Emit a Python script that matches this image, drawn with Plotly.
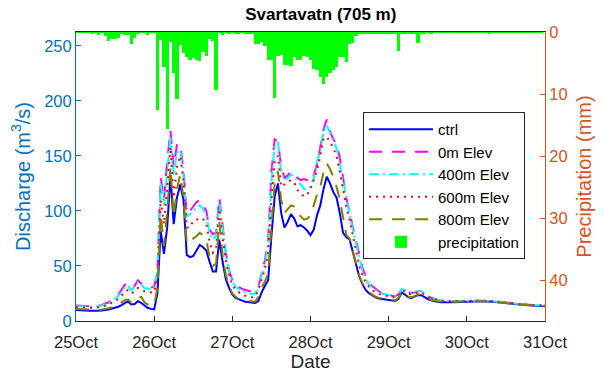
import pandas as pd
import plotly.graph_objects as go

# ---------------- data ----------------
start = pd.Timestamp("2018-10-25 00:00")
day_ticks = ["25Oct", "26Oct", "27Oct", "28Oct", "29Oct", "30Oct", "31Oct"]

# hours after 25 Oct 00:00 at which discharge was read
disc_hours = [0, 2, 4, 6, 8, 10] + list(range(12, 109)) + [110, 112, 116, 120, 124, 128, 132, 136, 140, 144]

ctrl = [10, 9.5, 9.3, 9.3, 9.5, 10.5,
        12, 13, 14.5, 16.5, 17.5, 15, 15.5, 18, 16.5, 14, 12, 11,
        10.5, 25, 82, 61, 85, 132, 88, 112, 124, 110, 60, 58,
        59, 64, 69, 67, 64, 54, 45, 45, 74, 54, 38, 30,
        24, 21, 19.5, 18.5, 17.5, 17, 16.5, 16.3, 18, 26, 32, 37,
        77, 113, 125, 98, 85, 90, 97, 93, 86, 87, 85, 82,
        78, 83, 96, 105, 120, 131, 125, 117, 112, 98, 80, 76,
        74, 63, 50, 40, 33, 28, 25, 23, 21.5, 20.5, 20, 19.5,
        19, 18.5, 18.2, 20, 26, 24, 21.5, 21, 22, 23.5, 23.5, 21.5,
        20,
        18, 17, 17, 17.5, 18, 17.5, 16, 15, 14, 13.5]

elev0 = [14, 13.5, 13.5, 13.5, 14.5, 17,
         21, 24, 28, 33, 33, 29.5, 32, 37, 34, 32, 31, 30.5,
         31, 45, 131, 110, 145, 173, 140, 160, 161, 137, 97, 100,
         104, 108, 110, 106, 100, 83, 79, 80, 112, 89, 62, 46,
         37, 32, 31, 29, 28, 27, 26.5, 27, 31, 44, 55, 75,
         135, 165, 163, 140, 130, 132, 136, 134, 130, 128, 129, 128,
         126, 133, 142, 158, 174, 183, 172, 165, 161, 148, 128, 112,
         98, 86, 74, 60, 48, 40, 35, 31.5, 29, 27, 25.5, 24.5,
         24, 23, 22.5, 24, 29, 28.5, 26.5, 25.5, 26, 27, 27, 24.5,
         22.5,
         20, 18.5, 18, 18.5, 18.5, 18, 16.5, 15.5, 14.5, 14]

elev400 = [13.5, 13, 13, 13, 14, 16.5,
           20, 23, 26, 31, 32, 28, 31, 35, 33, 30, 29.5, 29,
           30, 45, 125, 105, 135, 168, 132, 153, 155, 133, 95, 97,
           100, 103, 105, 102, 96, 80, 74, 77, 108, 85, 60, 45,
           36, 31, 29, 27, 26, 25, 24.5, 25, 30, 42, 52, 70,
           125, 160, 162, 135, 128, 130, 133, 132, 127, 124, 120, 119,
           122, 130, 145, 155, 172, 178, 170, 163, 157, 142, 124, 110,
           97, 83, 70, 56, 45, 38, 33, 30, 28, 26, 25, 24,
           23.5, 23, 22.5, 24, 29, 28, 26, 25, 26, 27, 27, 24.5,
           22.5,
           20, 18.5, 18, 18.5, 18.5, 18, 16.5, 15.5, 14.5, 14]

elev600 = [12.5, 12, 12, 12, 13, 15,
           18, 20, 23, 27, 28, 25, 27, 30, 29, 27, 27, 26,
           26, 40, 110, 88, 120, 158, 112, 140, 150, 128, 85, 85,
           91, 92, 93, 93, 88, 72, 62, 65, 102, 76, 55, 42,
           33, 28, 26, 24, 23, 22, 21.5, 22, 28, 38, 47, 62,
           110, 145, 150, 122, 124, 126, 128, 126, 119, 116, 113, 115,
           120, 128, 137, 150, 166, 167, 163, 157, 150, 135, 118, 104,
           92, 78, 62, 50, 41, 35, 31, 28, 26, 24.5, 23.5, 23,
           22.5, 22, 21.5, 23, 28, 27, 25, 24, 25, 26, 26, 24,
           22,
           20, 18.5, 18, 18.5, 18.5, 18, 16.5, 15.5, 14.5, 14]

elev800 = [11, 10.5, 10, 10, 10.5, 11.5,
           13.5, 15, 17, 19, 19.5, 16.5, 18, 21, 22, 17, 15, 14,
           14.5, 30, 97, 68, 100, 140, 95, 120, 133, 112, 71, 70,
           75, 77, 80, 78, 74, 58, 50, 52, 90, 60, 42, 32,
           25, 22, 20, 19, 18.5, 18, 17.5, 17.5, 22, 30, 36, 43,
           86, 125, 136, 110, 98, 102, 105, 104, 98, 95, 92, 93,
           96, 105, 115, 122, 135, 143, 138, 131, 122, 110, 92, 78,
           75, 64, 51, 41, 34, 29, 26, 24, 22, 21, 20.5, 20,
           19.5, 19, 18.8, 21, 27, 25, 22, 21.5, 22.5, 24, 24, 22,
           20.5,
           18.5, 17.5, 17.5, 18, 18, 17.5, 16, 15, 14, 13.5]

# hourly precipitation (mm), hours 0..143
precip = [0.05, 0.05, 0.05, 0.05, 0.1, 0.3, 0.1, 0.5, 0.1, 0.7, 1.4, 1.2,
          1.1, 1.0, 0.3, 0.5, 0.5, 2.0, 1.0, 0.2, 0.1, 0.1, 0.5, 0.05,
          0.05, 12.5, 1.3, 5.6, 15.7, 1.6, 6.6, 10.8, 2.1, 3.4, 4.1, 4.5,
          4.2, 4.5, 4.7, 3.2, 3.9, 1.1, 1.4, 9.3, 0.1, 0.5, 0.1, 0.2,
          0.1, 0.2, 0.2, 0.1, 0.2, 0.3, 0.2, 1.9, 2.0, 1.6, 2.3, 4.5,
          4.5, 10.6, 3.9, 3.7, 5.3, 5.3, 5.5, 4.0, 4.5, 4.5, 3.8, 4.1,
          4.5, 5.9, 6.1, 7.3, 8.4, 7.2, 6.6, 6.2, 5.6, 4.0, 4.0, 4.9,
          1.9, 1.7, 0.6, 0.4, 0.4, 0.4, 0.3, 0.3, 0.3, 0.2, 0.3, 0.2,
          0.3, 0.2, 0.3, 3.1, 0.3, 0.2, 0.3, 0.2, 0.3, 1.7, 0.2, 0.2,
          0.1, 0.2, 0.1, 0.1, 0.1, 0.1, 0.1, 0.1, 0.1, 0.1, 0.1, 0.1,
          0.1, 0.1, 0.1, 0.1, 0.1, 0.1, 0.1, 0.3, 0.05, 0.05, 0.05, 0.05,
          0.05, 0.05, 0.05, 0.05, 0.05, 0.05, 0.05, 0.05, 0.05, 0.05, 0.05, 0.05]
precip_hours = list(range(len(precip)))

# ---------------- figure ----------------
t_disc = [start + pd.Timedelta(hours=h) for h in disc_hours]
t_prec = [start + pd.Timedelta(hours=h) for h in precip_hours]
tick_times = [start + pd.Timedelta(days=i) for i in range(len(day_ticks))]

FONT = "Liberation Sans, Arial, Helvetica, sans-serif"
BLUE_AX = "#0072BD"
ORANGE_AX = "#D95319"
DARK = "#262626"

fig = go.Figure()
series = [
    ("ctrl", ctrl, "#0000FF", "solid"),
    ("0m Elev", elev0, "#FF00FF", "13px,10px"),
    ("400m Elev", elev400, "#00FFFF", "10px,4px,2px,4px"),
    ("600m Elev", elev600, "#FF0000", "2px,5px"),
    ("800m Elev", elev800, "#808000", "13px,10px"),
]
for name, vals, col, dash in series:
    fig.add_trace(go.Scatter(x=t_disc, y=vals, name=name, mode="lines", yaxis="y2",
                             line=dict(color=col, width=2, dash=dash)))

fig.add_trace(go.Bar(x=t_prec, y=precip, name="precipitation", yaxis="y",
                     width=3600000, marker=dict(color="#00FF00", line=dict(width=0))))

fig.update_layout(
    width=604, height=375,
    margin=dict(l=76, r=59, t=32, b=54),
    paper_bgcolor="white", plot_bgcolor="white",
    font=dict(family=FONT, size=16, color=DARK),
    title=dict(text="<b>Svartavatn (705 m)</b>", x=0.522, xref="paper", xanchor="center",
               y=0.962, yref="container", yanchor="middle",
               font=dict(size=17, color="#000000", family=FONT)),
    showlegend=True,
    legend=dict(x=0.612, y=0.723, xanchor="left", yanchor="top",
                bgcolor="white", bordercolor=DARK, borderwidth=1,
                font=dict(size=15, color="#000000"), itemwidth=64,
                tracegroupgap=0),
    bargap=0,
    xaxis=dict(type="date", range=[start, start + pd.Timedelta(days=6)],
               tickvals=tick_times, ticktext=day_ticks,
               ticks="inside", ticklen=5, tickcolor=DARK,
               showline=True, linecolor=DARK, linewidth=1, mirror=True,
               showgrid=False, zeroline=False, ticklabelstandoff=6,
               tickfont=dict(size=16.5, color=DARK),
               title=dict(text="Date", font=dict(size=19, color=DARK), standoff=0)),
    yaxis=dict(side="right", range=[46.6, 0], tickvals=[0, 10, 20, 30, 40],
               ticks="inside", ticklen=5, tickcolor=ORANGE_AX,
               showline=True, linecolor=ORANGE_AX, linewidth=1,
               showgrid=False, zeroline=False,
               tickfont=dict(size=16.5, color=ORANGE_AX),
               title=dict(text="Precipitation (mm)", font=dict(size=20, color=ORANGE_AX), standoff=10)),
    yaxis2=dict(side="left", overlaying="y", range=[0, 262.5],
                tickvals=[0, 50, 100, 150, 200, 250],
                ticks="inside", ticklen=5, tickcolor=BLUE_AX,
                showline=True, linecolor=BLUE_AX, linewidth=1,
                showgrid=False, zeroline=False,
                tickfont=dict(size=16.5, color=BLUE_AX),
                title=dict(text="Discharge (m<sup>3</sup>/s)", font=dict(size=20, color=BLUE_AX), standoff=8)),
)

fig.write_html("out.html")
